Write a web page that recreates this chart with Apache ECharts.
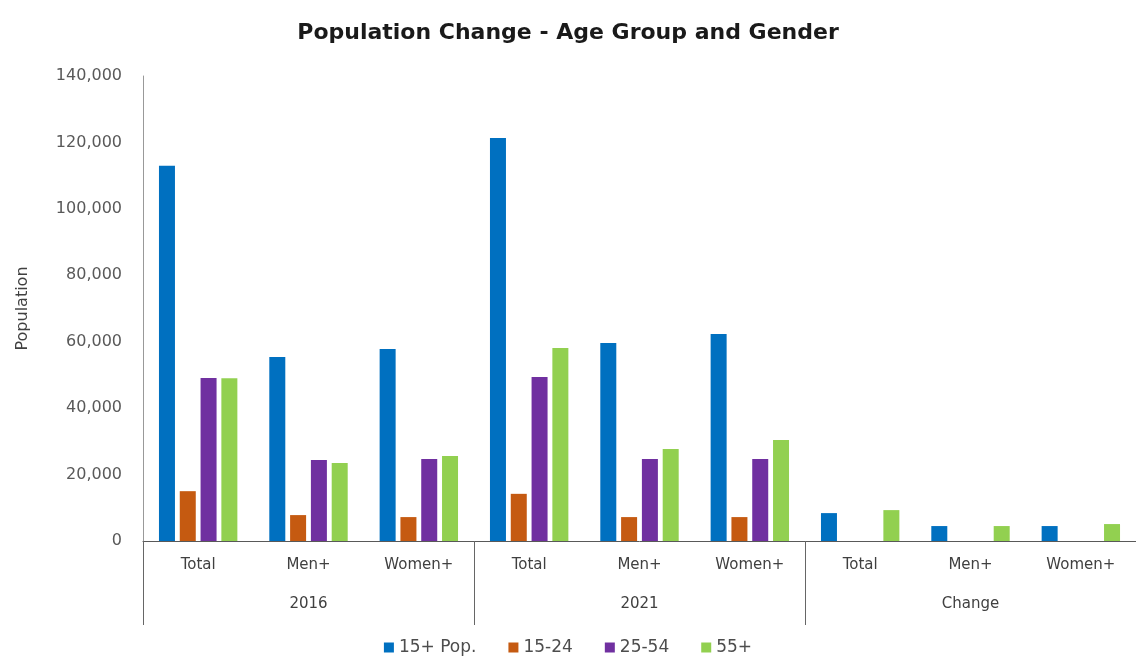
<!DOCTYPE html>
<html lang="en">
<head>
  <meta charset="UTF-8">
  <title>Population Change - Age Group and Gender</title>
  <script src="https://cdn.jsdelivr.net/npm/echarts@6/dist/echarts.min.js"></script>
</head>
<body style="margin:0;width:1136px;height:663px;overflow:hidden;background:#fff;">
  <div id="main" style="width:1136px;height:663px;"></div>
</body>
<script>
  // data
  var groups = ['2016', '2021', 'Change'];
  var genders = ['Total', 'Men+', 'Women+'];
  var seriesNames = ['15+ Pop.', '15-24', '25-54', '55+'];
  var pop15plus = [113000, 55400, 57800, 121300, 59600, 62300, 8400, 4500, 4500];
  var age15to24 = [15000, 7800, 7200, 14200, 7200, 7200, 0, 0, 0];
  var age25to54 = [49100, 24400, 24700, 49400, 24700, 24700, 0, 0, 0];
  var age55plus = [49000, 23500, 25600, 58100, 27700, 30400, 9300, 4500, 5100];
  var colors = ['#0070C0', '#C55A11', '#7030A0', '#92D050'];

  var categories = [];
  groups.forEach(function (g) {
    genders.forEach(function (s) { categories.push(s); });
  });

  var myChart = echarts.init(document.getElementById('main'));
  var values = [pop15plus, age15to24, age25to54, age55plus];
  var font = 'DejaVu Sans';

  var option = {
    backgroundColor: '#fff',
    title: {
      text: 'Population Change - Age Group and Gender',
      left: 'center',
      top: 17,
      textStyle: { fontFamily: font, fontSize: 22, fontWeight: 'bold', color: '#1a1a1a' }
    },
    legend: {
      bottom: 2,
      left: 'center',
      itemWidth: 10,
      itemHeight: 10,
      itemGap: 32,
      icon: 'rect',
      textStyle: { fontFamily: font, fontSize: 17, color: '#4d4d4d' },
      data: seriesNames
    },
    grid: { left: 143, right: -6, top: 76, bottom: 122 },
    xAxis: [{
      type: 'category',
      data: categories,
      axisLine: { lineStyle: { color: '#595959', width: 1 } },
      axisTick: { show: false },
      axisLabel: { interval: 0, margin: 17, fontFamily: font, fontSize: 15, color: '#404040' }
    }, {
      type: 'category',
      position: 'bottom',
      data: groups,
      axisLine: { show: false },
      axisTick: { show: true, length: 84, interval: 0, lineStyle: { color: '#666' } },
      axisLabel: { interval: 0, margin: 56, fontFamily: font, fontSize: 15, color: '#404040' }
    }],
    yAxis: {
      type: 'value',
      min: 0,
      max: 140000,
      interval: 20000,
      name: 'Population',
      nameLocation: 'middle',
      nameGap: 112,
      nameTextStyle: { fontFamily: font, fontSize: 16, color: '#404040' },
      axisLine: { show: true, lineStyle: { color: '#999' } },
      axisTick: { show: false },
      splitLine: { show: false },
      axisLabel: {
        margin: 21,
        fontFamily: font,
        fontSize: 16,
        color: '#595959',
        formatter: function (v) { return v.toLocaleString('en-US'); }
      }
    },
    series: seriesNames.map(function (name, i) {
      return {
        name: name,
        type: 'bar',
        xAxisIndex: 0,
        data: values[i],
        barWidth: 16,
        barGap: '30%',
        itemStyle: { color: colors[i] }
      };
    })
  };

  myChart.setOption(option);
</script>
</html>
